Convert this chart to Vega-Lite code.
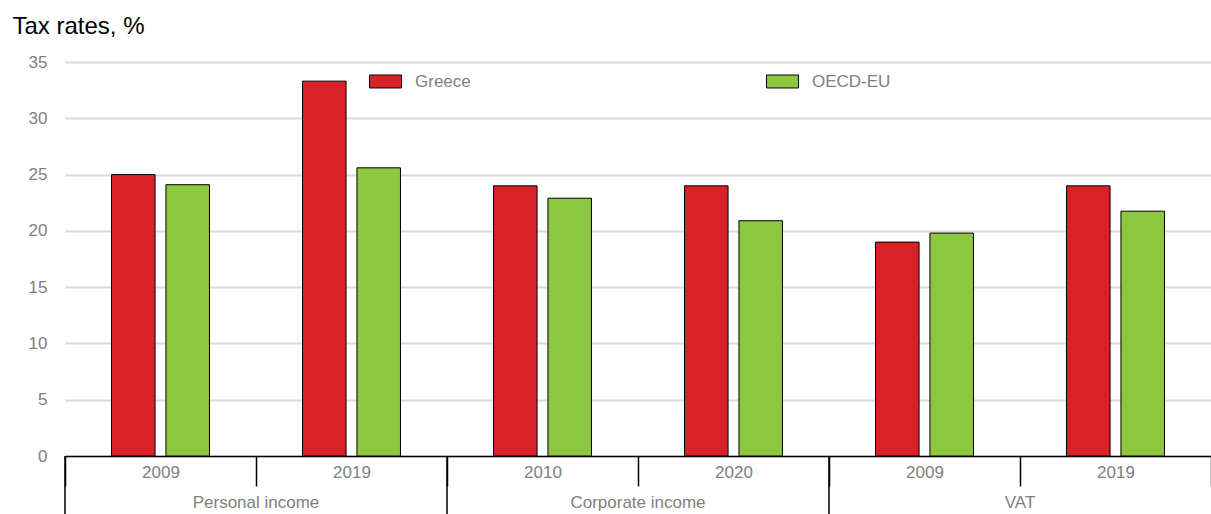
{
  "$schema": "https://vega.github.io/schema/vega-lite/v6.json",
  "width": 1146,
  "height": 394,
  "autosize": {"type": "none"},
  "padding": {"left": 65, "top": 62, "right": 0, "bottom": 58},
  "background": "white",
  "config": {"font": "Liberation Sans", "view": {"stroke": null}},
  "datasets": {
    "bars": [
      {"key": "Personal income|2009", "series": "Greece", "value": 25.0},
      {"key": "Personal income|2009", "series": "OECD-EU", "value": 24.1},
      {"key": "Personal income|2019", "series": "Greece", "value": 33.3},
      {"key": "Personal income|2019", "series": "OECD-EU", "value": 25.6},
      {"key": "Corporate income|2010", "series": "Greece", "value": 24.0},
      {"key": "Corporate income|2010", "series": "OECD-EU", "value": 22.9},
      {"key": "Corporate income|2020", "series": "Greece", "value": 24.0},
      {"key": "Corporate income|2020", "series": "OECD-EU", "value": 20.9},
      {"key": "VAT|2009", "series": "Greece", "value": 19.0},
      {"key": "VAT|2009", "series": "OECD-EU", "value": 19.8},
      {"key": "VAT|2019", "series": "Greece", "value": 24.0},
      {"key": "VAT|2019", "series": "OECD-EU", "value": 21.75}
    ],
    "cats": [
      {"cat": "Personal income", "start": "Personal income|2009", "mid": "Personal income|2019"},
      {"cat": "Corporate income", "start": "Corporate income|2010", "mid": "Corporate income|2020"},
      {"cat": "VAT", "start": "VAT|2009", "mid": "VAT|2019"}
    ]
  },
  "layer": [
    {
      "data": {"name": "bars"},
      "mark": {"type": "bar", "stroke": "black", "strokeWidth": 1},
      "encoding": {
        "x": {
          "field": "key", "type": "nominal", "title": null,
          "scale": {"domain": ["Personal income|2009", "Personal income|2019", "Corporate income|2010", "Corporate income|2020", "VAT|2009", "VAT|2019"], "paddingInner": 0, "paddingOuter": 0},
          "axis": {"labelExpr": "split(datum.label,'|')[1]", "labelAngle": 0, "tickBand": "extent", "tickSize": 30, "tickColor": "black", "tickWidth": 1.5, "domainColor": "black", "domainWidth": 1.5, "labelColor": "#808080", "labelFontSize": 17, "labelPadding": -22, "grid": false}
        },
        "xOffset": {"field": "series", "type": "nominal", "scale": {"domain": ["Greece", "OECD-EU"], "paddingInner": 0.2, "paddingOuter": 0.855}},
        "y": {
          "field": "value", "type": "quantitative",
          "scale": {"domain": [0, 35], "nice": false},
          "axis": {"title": "Tax rates, %", "values": [0, 5, 10, 15, 20, 25, 30, 35], "grid": true, "gridColor": "#d9d9d9", "gridWidth": 2, "domain": false, "ticks": false, "labelPadding": 18, "labelColor": "#808080", "labelFontSize": 17, "titleAngle": 0, "titleAlign": "left", "titleBaseline": "middle", "titleX": -53, "titleY": -36, "titleFontSize": 24, "titleColor": "black", "titleFontWeight": "normal"}
        },
        "color": {
          "field": "series", "type": "nominal",
          "scale": {"domain": ["Greece", "OECD-EU"], "range": ["#DA2128", "#8DC63F"]},
          "legend": {"title": null, "orient": "none", "legendX": 304, "legendY": 3, "direction": "horizontal", "columns": 2, "columnPadding": 293, "symbolType": "M-1,-0.406H1V0.406H-1Z", "symbolSize": 1024, "symbolStrokeColor": "black", "symbolStrokeWidth": 1, "symbolOpacity": 1, "labelFontSize": 17, "labelColor": "#808080", "labelOffset": 13, "padding": 0}
        }
      }
    },
    {
      "data": {"name": "cats"},
      "mark": {"type": "rule", "color": "black", "strokeWidth": 1.5},
      "encoding": {
        "x": {"field": "start", "type": "nominal", "bandPosition": 0, "title": null},
        "y": {"datum": 0, "type": "quantitative", "title": null, "scale": {"domain": [0, 35], "nice": false}},
        "y2": {"datum": -6}
      }
    },
    {
      "data": {"name": "cats"},
      "mark": {"type": "text", "dy": 47, "fontSize": 17, "color": "#808080"},
      "encoding": {
        "x": {"field": "mid", "type": "nominal", "bandPosition": 0, "title": null},
        "y": {"datum": 0, "type": "quantitative", "title": null, "scale": {"domain": [0, 35], "nice": false}},
        "text": {"field": "cat"}
      }
    }
  ]
}
